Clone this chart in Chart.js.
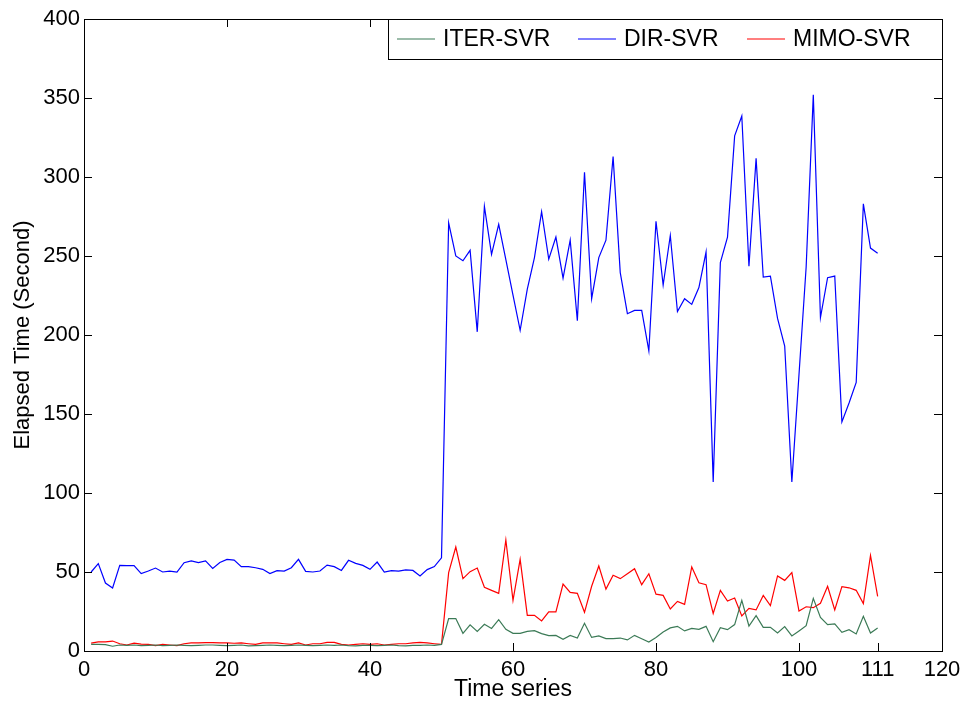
<!DOCTYPE html>
<html>
<head>
<meta charset="utf-8">
<script src="https://cdn.jsdelivr.net/npm/chart.js@4.4.1/dist/chart.umd.min.js"></script>
<style>
  html, body { margin: 0; padding: 0; background: #fff; overflow: hidden; }
</style>
</head>
<body>
<canvas id="chart" width="967" height="705"></canvas>
<script>
const seriesNames = ["ITER-SVR", "DIR-SVR", "MIMO-SVR"];
const seriesColors = ["#3b7a56", "#0000ff", "#ff0000"];
const xTickValues = [0, 20, 40, 60, 80, 100, 111, 120];

// time index 1..111
const timeIndex = Array.from({ length: 111 }, (_, i) => i + 1);

const iterSvr = [
    4.2, 4.2, 4.0, 3.0, 3.8, 3.6, 3.8, 3.4, 3.6, 3.8,
    3.4, 3.6, 3.8, 3.6, 3.4, 3.6, 3.8, 3.8, 3.6, 3.4,
    3.6, 3.8, 3.2, 3.4, 3.6, 3.8, 3.6, 3.4, 3.6, 3.8,
    3.6, 3.4, 3.6, 3.8, 3.6, 3.8, 3.4, 3.2, 3.6, 3.6,
    3.4, 3.6, 3.8, 3.4, 3.2, 3.6, 3.6, 3.8, 3.6, 4.2,
    20.5, 20.5, 11.2, 16.5, 12.4, 16.9, 14.3, 19.8, 13.7, 11.2,
    11.2, 12.4, 12.9, 11.0, 9.7, 9.9, 7.4, 9.9, 8.2, 17.5,
    8.6, 9.5, 7.8, 7.8, 8.2, 7.0, 9.9, 7.8, 5.7, 8.6,
    12.0, 14.6, 15.6, 12.7, 14.3, 13.7, 15.6, 5.9, 14.8, 13.5,
    16.7, 32.0, 15.8, 22.4, 15.0, 15.0, 11.4, 15.4, 9.5, 12.7,
    16.0, 33.3, 21.3, 16.7, 17.1, 11.8, 13.5, 10.8, 22.0, 11.4, 14.6
];

const dirSvr = [
    50, 55.3, 43, 39.9, 54.2, 54, 54, 49, 50.6, 52.5,
    50, 50.6, 50, 55.9, 57, 56, 57, 52.3, 56, 58,
    57.5, 53.4, 53.4, 52.7, 51.7, 49, 50.9, 50.6, 52.7, 58,
    50.4, 50, 50.6, 54.4, 53.4, 51, 57.4, 55.5, 54.2, 51.7,
    56.3, 50, 50.9, 50.6, 51.3, 51, 47.5, 51.5, 53.4, 59,
    271, 250, 247, 253.6, 202, 281.4, 251, 270, 247.7, 225.3,
    203, 229, 249, 278, 248, 262, 236, 260, 209, 303,
    223, 249, 260, 313, 239.5, 213.5, 215.6, 215.6, 190, 272,
    231.6, 263, 214.8, 223, 219.4, 230, 252.5, 107, 245.8, 262,
    326, 338.6, 243.5, 311.8, 236.7, 237.3, 210.5, 193, 107, 175,
    243, 352, 211, 236.3, 237.3, 145, 157, 170, 283, 255, 251.7
];

const mimoSvr = [
    5.0, 5.8, 5.8, 6.3, 4.6, 3.8, 5.0, 4.4, 4.2, 3.4,
    4.2, 3.8, 3.4, 4.6, 5.1, 5.1, 5.3, 5.3, 5.1, 5.1,
    4.9, 5.1, 4.6, 4.2, 5.1, 5.1, 5.1, 4.6, 4.2, 5.1,
    3.8, 4.6, 4.6, 5.5, 5.5, 4.2, 3.8, 4.2, 4.6, 4.2,
    4.6, 3.8, 4.2, 4.6, 4.6, 5.1, 5.5, 5.1, 4.6, 4.2,
    49.6, 65.8, 45.8, 50.2, 52.5, 40.3, 38.4, 36.5, 70.3, 32,
    58, 22.6, 22.6, 19, 24.7, 24.7, 42.4, 37.1, 36.5, 24.5,
    41, 53.8, 39.2, 47.9, 45.8, 48.9, 52.1, 42, 48.9, 36,
    35.2, 26.6, 31.4, 29.5, 53.2, 43.2, 42, 23.8, 38.4, 31.6,
    33.5, 22.2, 27, 26, 35.2, 28.7, 47.5, 44.7, 49.6, 25.3,
    28, 27.4, 30.2, 41, 26, 40.7, 40, 38.4, 30, 60.5, 34.6
];

const FONT = "'Liberation Sans', Arial, sans-serif";

// box around plot + inward ticks on all four sides + legend box in the corner
const matlabFrame = {
    id: "matlabFrame",
    afterDraw(chart) {
        const { ctx, chartArea: a, scales } = chart;
        const tl = 8;
        ctx.save();
        ctx.strokeStyle = "#000";
        ctx.lineWidth = 1;
        ctx.strokeRect(a.left + 0.5, a.top + 0.5, a.right - a.left, a.bottom - a.top);
        ctx.beginPath();
        scales.x.ticks.forEach(t => {
            const px = Math.round(scales.x.getPixelForValue(t.value)) + 0.5;
            ctx.moveTo(px, a.bottom); ctx.lineTo(px, a.bottom - tl);
            ctx.moveTo(px, a.top); ctx.lineTo(px, a.top + tl);
        });
        scales.y.ticks.forEach(t => {
            const py = Math.round(scales.y.getPixelForValue(t.value)) + 0.5;
            ctx.moveTo(a.left, py); ctx.lineTo(a.left + tl, py);
            ctx.moveTo(a.right, py); ctx.lineTo(a.right - tl, py);
        });
        ctx.stroke();

        // legend
        const bx = a.right - 554, by = a.top, bh = 40;
        ctx.fillStyle = "#fff";
        ctx.fillRect(bx, by, a.right - bx, bh);
        ctx.strokeRect(bx + 0.5, by + 0.5, a.right - bx, bh);
        const lineStarts = [bx + 9, bx + 190, bx + 359];
        ctx.font = "23px " + FONT;
        ctx.textBaseline = "middle";
        chart.data.datasets.forEach((ds, i) => {
            const x0 = lineStarts[i];
            const cy = by + bh / 2;
            ctx.strokeStyle = ds.borderColor;
            ctx.lineWidth = 1.2;
            ctx.beginPath();
            ctx.moveTo(x0, cy); ctx.lineTo(x0 + 38, cy);
            ctx.stroke();
            ctx.fillStyle = "#000";
            ctx.fillText(ds.label, x0 + 46, cy + 1);
        });
        ctx.restore();
    }
};

const chart = document.querySelector("#chart").getContext("2d");

new Chart(chart, {
    type: "line",
    data: {
        labels: timeIndex,
        datasets: [
            { label: seriesNames[0], data: iterSvr, borderColor: seriesColors[0] },
            { label: seriesNames[1], data: dirSvr, borderColor: seriesColors[1] },
            { label: seriesNames[2], data: mimoSvr, borderColor: seriesColors[2] }
        ].map(d => Object.assign(d, { borderWidth: 1.2, pointRadius: 0, tension: 0, fill: false }))
    },
    options: {
        responsive: false,
        animation: false,
        devicePixelRatio: 1,
        layout: { padding: { left: 0, top: 19, right: 25, bottom: 0 } },
        plugins: { legend: { display: false }, tooltip: { enabled: false } },
        scales: {
            x: {
                type: "linear",
                min: 0,
                max: 120,
                afterBuildTicks: s => { s.ticks = xTickValues.map(v => ({ value: v })); },
                afterFit: s => { s.height = 54; },
                grid: { display: false, drawTicks: false },
                border: { display: false },
                ticks: { color: "#000", padding: 6, maxRotation: 0, autoSkip: false, font: { family: FONT, size: 22 } },
                title: { display: true, text: "Time series", color: "#000", padding: { top: 0, bottom: 2 }, font: { family: FONT, size: 23 } }
            },
            y: {
                min: 0,
                max: 400,
                ticks: { stepSize: 50, color: "#000", padding: 4, font: { family: FONT, size: 22 } },
                afterFit: s => { s.width = 84; },
                grid: { display: false, drawTicks: false },
                border: { display: false },
                title: { display: true, text: "Elapsed Time (Second)", color: "#000", padding: { top: 10, bottom: 0 }, font: { family: FONT, size: 22 } }
            }
        }
    },
    plugins: [matlabFrame]
});
</script>
</body>
</html>
